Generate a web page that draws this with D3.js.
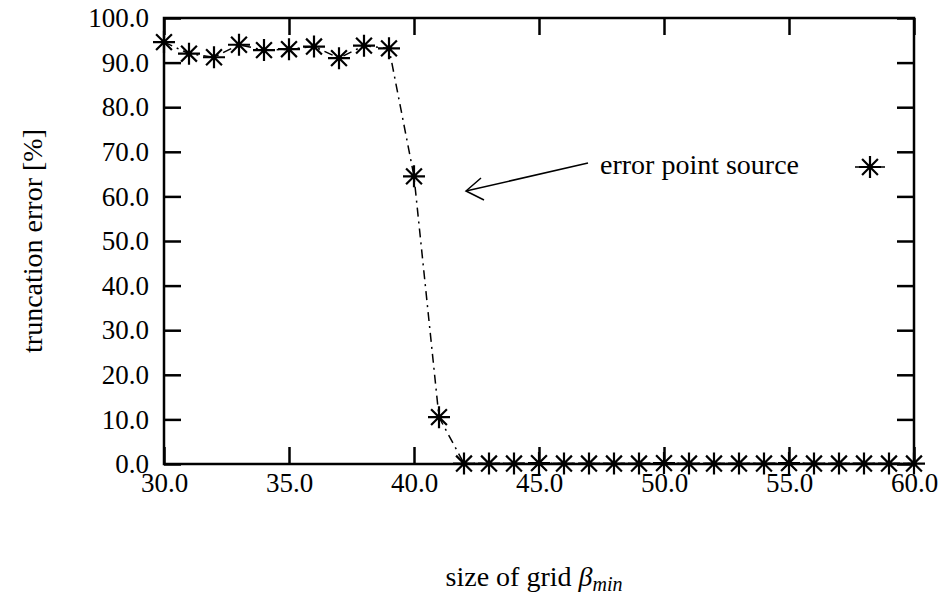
<!DOCTYPE html>
<html>
<head>
<meta charset="utf-8">
<script src="https://cdn.jsdelivr.net/npm/d3@7"></script>
<style>
  body { margin: 0; background: #fff; }
</style>
</head>
<body>
<div id="chart"></div>
<script>
// grid sizes and truncation error
const gridSize = [30, 31, 32, 33, 34, 35, 36, 37, 38, 39, 40, 41, 42, 43, 44, 45,
  46, 47, 48, 49, 50, 51, 52, 53, 54, 55, 56, 57, 58, 59, 60];
const truncError = [94.6, 92.0, 91.2, 94.0, 92.8, 93.0, 93.6, 91.0, 93.8, 93.2,
  64.5, 10.5, 0.1, 0.1, 0.1, 0.2, 0.1, 0.1, 0.1, 0.1, 0.2, 0.1, 0.1, 0.1, 0.1,
  0.2, 0.1, 0.1, 0.1, 0.1, 0.1];
const xTicks = [30, 35, 40, 45, 50, 55, 60];
const yTicks = [0, 10, 20, 30, 40, 50, 60, 70, 80, 90, 100];
const seriesName = "error point source";

const width = 944, height = 613;
const mLeft = 164, mRight = 914, mTop = 18, mBottom = 464;
const serif = '"Liberation Serif", "Times New Roman", Times, "DejaVu Serif", serif';
const fontSize = "27px";

const svg = d3.select("#chart").append("svg")
  .attr("width", width)
  .attr("height", height);

const x = d3.scaleLinear().domain([30, 60]).range([mLeft, mRight]);
const y = d3.scaleLinear().domain([0, 100]).range([mBottom, mTop]);

const fmt = d3.format(".1f");
const tickLen = 17;

// axes with inward ticks, mirrored on all four sides
function styleAxis(g) {
  g.attr("font-family", null).attr("font-size", null);
  g.select(".domain").remove();
  g.selectAll(".tick line").attr("stroke", "#000").attr("stroke-width", 2.5);
  g.selectAll(".tick text")
    .style("font-family", serif)
    .style("font-size", fontSize)
    .attr("fill", "#000");
}

svg.append("g")
  .attr("transform", `translate(0,${mBottom})`)
  .call(d3.axisBottom(x).tickValues(xTicks).tickFormat(fmt).tickSizeInner(-tickLen).tickSizeOuter(0).tickPadding(9))
  .call(styleAxis);

svg.append("g")
  .attr("transform", `translate(0,${mTop})`)
  .call(d3.axisTop(x).tickValues(xTicks).tickFormat("").tickSizeInner(-tickLen).tickSizeOuter(0))
  .call(styleAxis);

svg.append("g")
  .attr("transform", `translate(${mLeft},0)`)
  .call(d3.axisLeft(y).tickValues(yTicks).tickFormat(fmt).tickSizeInner(-tickLen).tickSizeOuter(0).tickPadding(15))
  .call(styleAxis);

svg.append("g")
  .attr("transform", `translate(${mRight},0)`)
  .call(d3.axisRight(y).tickValues(yTicks).tickFormat("").tickSizeInner(-tickLen).tickSizeOuter(0))
  .call(styleAxis);

// frame
svg.append("rect")
  .attr("x", mLeft).attr("y", mTop)
  .attr("width", mRight - mLeft).attr("height", mBottom - mTop)
  .attr("fill", "none").attr("stroke", "#000").attr("stroke-width", 2.5);

// dash-dot line
const dash = "9,5,2,5";
const line = d3.line().x((d, i) => x(gridSize[i])).y(d => y(d));
svg.append("path")
  .datum(truncError)
  .attr("d", line)
  .attr("fill", "none")
  .attr("stroke", "#000")
  .attr("stroke-width", 1.5)
  .attr("stroke-dasharray", dash);

// asterisk markers
const r = 11;
function star(g) {
  const k = r * 0.72;
  g.append("path")
    .attr("d", `M${-r},0H${r}M0,${-r}V${r}M${-k},${-k}L${k},${k}M${-k},${k}L${k},${-k}`)
    .attr("stroke", "#000")
    .attr("stroke-width", 2.2)
    .attr("fill", "none");
}
svg.selectAll(".pt")
  .data(truncError)
  .enter().append("g")
  .attr("class", "pt")
  .attr("transform", (d, i) => `translate(${x(gridSize[i])},${y(d)})`)
  .each(function () { star(d3.select(this)); });

// legend
svg.append("text")
  .attr("x", 600).attr("y", 174)
  .style("font-family", serif)
  .style("font-size", "28px")
  .text(seriesName);
svg.append("line")
  .attr("x1", 855).attr("x2", 890).attr("y1", 167).attr("y2", 167)
  .attr("stroke", "#000").attr("stroke-width", 1.5)
  .attr("stroke-dasharray", dash);
svg.append("g").attr("transform", "translate(870,167)").call(star);

// arrow pointing at the 40.0 point
svg.append("line")
  .attr("x1", 588).attr("y1", 163).attr("x2", 466).attr("y2", 191)
  .attr("stroke", "#000").attr("stroke-width", 1.5);
svg.append("path")
  .attr("d", "M481,178L466,191L484,200")
  .attr("fill", "none").attr("stroke", "#000").attr("stroke-width", 1.5);

// axis titles
svg.append("text")
  .attr("transform", `translate(36,${(mTop + mBottom) / 2}) rotate(-90)`)
  .attr("text-anchor", "middle")
  .attr("dominant-baseline", "middle")
  .style("font-family", serif)
  .style("font-size", "28px")
  .text("truncation error [%]");

const xt = svg.append("text")
  .attr("x", 534).attr("y", 586)
  .attr("text-anchor", "middle")
  .style("font-family", serif)
  .style("font-size", "28px");
xt.append("tspan").text("size of grid ");
xt.append("tspan").style("font-style", "italic").text("β");
xt.append("tspan").style("font-style", "italic").style("font-size", "20px").attr("dy", 5).text("min");
</script>
</body>
</html>
